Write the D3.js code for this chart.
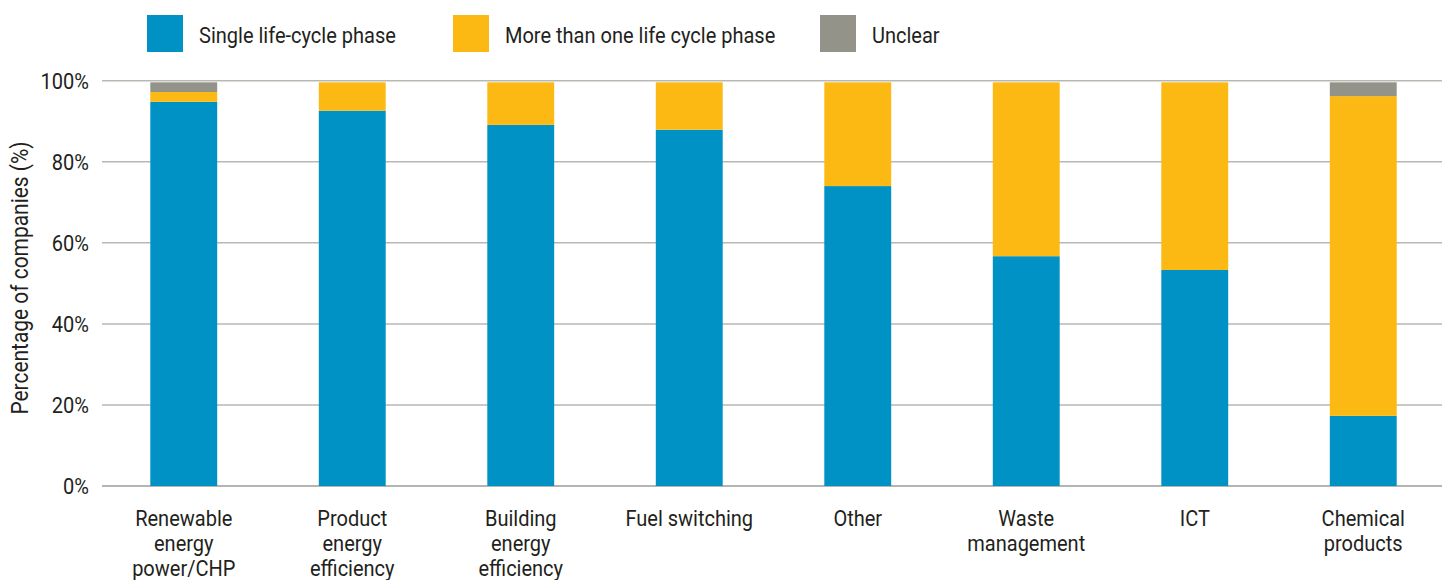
<!DOCTYPE html>
<html><head><meta charset="utf-8">
<script src="https://cdn.jsdelivr.net/npm/d3@7"></script>
<style>
body{margin:0;background:#fff;}
text{font-family:"Roboto","Liberation Sans",sans-serif;fill:#231f20;}
</style></head>
<body><svg id="c" width="1442" height="580"></svg>
<script>
const categories = [["Renewable","energy","power/CHP"],["Product","energy","efficiency"],["Building","energy","efficiency"],["Fuel switching"],["Other"],["Waste","management"],["ICT"],["Chemical","products"]];
const single = [94.8, 92.6, 89.1, 87.9, 74.0, 56.7, 53.3, 17.3];
const multiple = [2.4, 7.0, 10.5, 11.7, 25.6, 42.9, 46.3, 78.9];
const unclear = [2.4, 0, 0, 0, 0, 0, 0, 3.4];
const seriesNames = ["Single life-cycle phase","More than one life cycle phase","Unclear"];
const colors = ["#0092c5","#fdb913","#939389"];
const yTicks = [0,20,40,60,80,100];

const svg = d3.select("#c");
const probe = svg.append("text").attr("font-size",22).text("Single life-cycle phase");
const k = 197 / probe.node().getComputedTextLength();
probe.remove();

const x = d3.scaleBand().domain(d3.range(categories.length)).range([99.5,1447.5]).paddingInner(0.603).paddingOuter(0.3015);
const y = d3.scaleLinear().domain([0,100]).range([486,80.7]);

svg.append("g").selectAll("line").data(yTicks).join("line")
  .attr("x1",102).attr("x2",1442).attr("y1",d=>y(d)).attr("y2",d=>y(d))
  .attr("stroke",d=>d===0?"#9d9d96":"#b8b8b2").attr("stroke-width",1.5);

svg.append("g").selectAll("text").data(yTicks).join("text")
  .attr("transform",d=>`translate(89,${y(d)+8}) scale(${k},1)`).attr("text-anchor","end").attr("font-size",22)
  .text(d=>d+"%");

svg.append("text").attr("transform",`translate(28,278) rotate(-90) scale(${k},1)`).attr("text-anchor","middle")
  .attr("font-size",23).text("Percentage of companies (%)");

const rows = categories.map((c,i)=>({i, s:single[i], m:multiple[i], u:unclear[i]}));
const stack = d3.stack().keys(["s","m","u"])(rows);
svg.append("g").selectAll("g").data(stack).join("g").attr("fill",(d,j)=>colors[j])
  .selectAll("rect").data(d=>d).join("rect")
  .attr("x",d=>x(d.data.i)).attr("width",x.bandwidth())
  .attr("y",d=>y(d[1])).attr("height",d=>Math.max(0,y(d[0])-y(d[1])));

const xl = svg.append("g").selectAll("text").data(categories).join("text")
  .attr("text-anchor","middle").attr("font-size",22)
  .attr("transform",(d,i)=>`translate(${x(i)+x.bandwidth()/2},526) scale(${k},1)`);
xl.selectAll("tspan").data(d=>d).join("tspan").attr("x",0).attr("dy",(d,j)=>j===0?0:25).text(d=>d);

const legX = [147,453,820];
const lg = svg.append("g").selectAll("g").data(seriesNames).join("g")
  .attr("transform",(d,i)=>`translate(${legX[i]},15)`);
lg.append("rect").attr("width",36).attr("height",37).attr("fill",(d,i)=>colors[i]);
lg.append("text").attr("transform",`translate(52,28) scale(${k},1)`).attr("font-size",22).text(d=>d);
</script></body></html>
